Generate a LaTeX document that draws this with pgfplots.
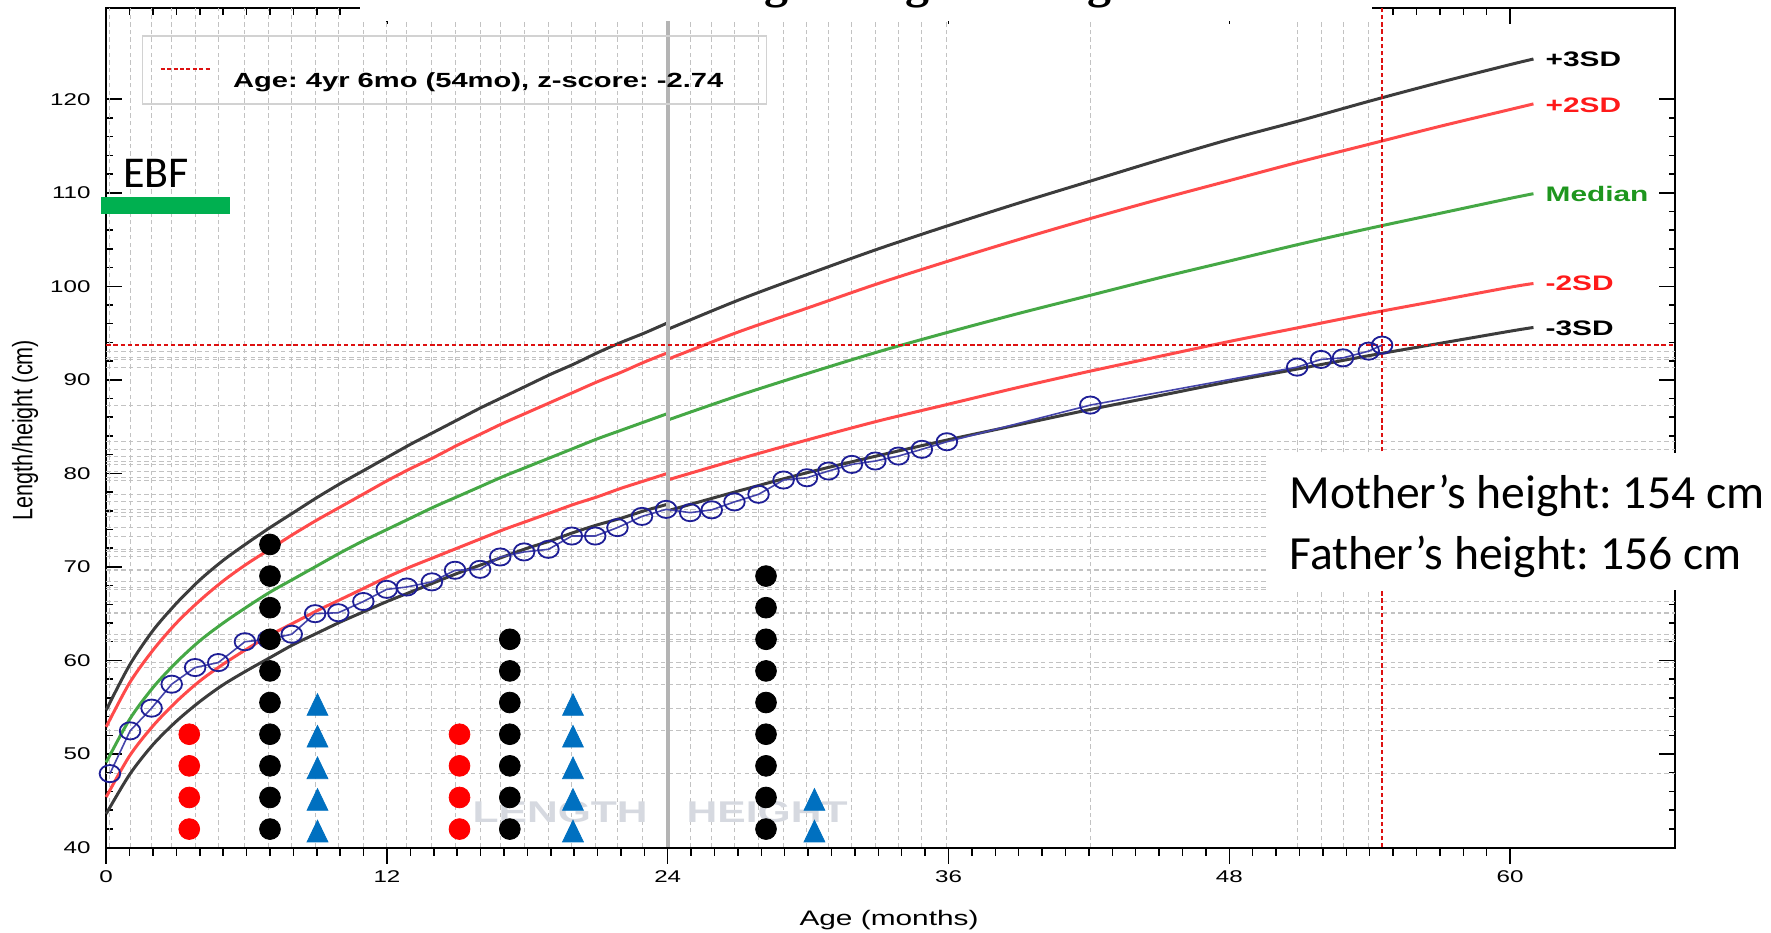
\documentclass[border=0pt]{standalone}
\usepackage{fontspec}
\setmainfont{Liberation Sans}
\newfontfamily\calibri{Carlito}
\newfontfamily\serifb{Liberation Serif}
\usepackage{pgfplots}
\pgfplotsset{compat=1.18}
\usepackage{pgfplotstable}
\frenchspacing

\definecolor{sdgray}{HTML}{3C3C3C}
\definecolor{sdred}{HTML}{FF4A4A}
\definecolor{sdgreen}{HTML}{45A845}
\definecolor{labred}{HTML}{FF1A1A}
\definecolor{labgreen}{HTML}{1E961E}
\definecolor{ptnavy}{HTML}{1E1E96}
\definecolor{ptline}{HTML}{4444AA}
\definecolor{gridc}{HTML}{C2C2C2}
\definecolor{mkblue}{HTML}{0070C0}
\definecolor{ebfgreen}{HTML}{00B050}
\definecolor{wmark}{HTML}{D6D9E0}
\definecolor{refred}{HTML}{DD1111}
\definecolor{legbox}{HTML}{D2D2D2}
\definecolor{sepgray}{HTML}{B4B4B4}

% WHO length-for-age (girls), 0-24 months
\pgfplotstableread{
m sm3 sm2 med sp2 sp3
0 43.6 45.4 49.1 52.9 54.7
1 47.8 49.8 53.7 57.6 59.5
2 51.0 53.0 57.1 61.1 63.2
3 53.5 55.6 59.8 64.0 66.1
4 55.6 57.8 62.1 66.4 68.6
5 57.4 59.6 64.0 68.5 70.7
6 58.9 61.2 65.7 70.3 72.5
7 60.3 62.7 67.3 71.9 74.2
8 61.7 64.0 68.7 73.5 75.8
9 62.9 65.3 70.1 75.0 77.4
10 64.1 66.5 71.5 76.4 78.9
11 65.2 67.7 72.8 77.8 80.3
12 66.3 68.9 74.0 79.2 81.7
13 67.3 70.0 75.2 80.5 83.1
14 68.3 71.0 76.4 81.7 84.4
15 69.3 72.0 77.5 83.0 85.7
16 70.2 73.0 78.6 84.2 87.0
17 71.1 74.0 79.7 85.4 88.2
18 72.0 74.9 80.7 86.5 89.4
19 72.8 75.8 81.7 87.6 90.6
20 73.7 76.7 82.7 88.7 91.7
21 74.5 77.5 83.7 89.8 92.9
22 75.2 78.4 84.6 90.8 94.0
23 76.0 79.2 85.5 91.9 95.0
24 76.7 80.0 86.4 92.9 96.1
}\lentab

% WHO height-for-age (girls), 24-61 months
\pgfplotstableread{
m sm3 sm2 med sp2 sp3
24 76.0 79.3 85.7 92.2 95.4
27 78.1 81.5 88.3 95.1 98.5
30 80.1 83.6 90.7 97.7 101.3
33 81.9 85.6 93.0 100.3 104.0
36 83.6 87.4 95.1 102.7 106.5
39 85.2 89.2 97.1 105.0 108.9
42 86.8 90.9 99.0 107.2 111.2
45 88.3 92.5 100.9 109.3 113.5
48 89.8 94.1 102.7 111.3 115.7
51 91.2 95.6 104.5 113.3 117.7
54 92.6 97.1 106.2 115.2 119.8
57 93.9 98.5 107.8 117.1 121.8
60 95.2 99.9 109.4 118.9 123.7
61 95.6 100.3 109.9 119.5 124.3
}\httab

% child measurements
\pgfplotstableread{
x y
0.16 47.9
1.02 52.47
1.94 54.9
2.8 57.46
3.8 59.24
4.79 59.77
5.93 62.0
6.93 62.27
7.93 62.8
8.93 65.0
9.92 65.1
10.99 66.3
11.99 67.6
12.85 67.85
13.92 68.4
14.91 69.64
15.98 69.74
16.84 71.06
17.86 71.6
18.9 71.88
19.9 73.3
20.9 73.3
21.85 74.2
22.9 75.4
23.93 76.15
24.96 75.8
25.88 76.1
26.85 76.95
27.88 77.76
28.95 79.29
29.95 79.53
30.87 80.25
31.87 80.96
32.87 81.32
33.86 81.85
34.86 82.57
35.93 83.38
42.06 87.3
50.9 91.36
51.92 92.18
52.86 92.35
53.96 93.07
54.53 93.71
}\pts

\begin{document}
\begin{tikzpicture}
\useasboundingbox (0pt,0pt) rectangle (885.5pt,466pt);
\begin{axis}[
  at={(53.1pt,42.25pt)}, anchor=south west,
  scale only axis, width=784.4pt, height=419.5pt,
  xmin=0, xmax=67.05, ymin=40, ymax=129.7,
  axis line style={line width=1pt, black},
  tick align=inside,
  xtick={0,12,...,60}, minor x tick num=11,
  xtick pos=right, xticklabels={},
  ytick={40,50,...,120}, minor y tick num=4,
  yticklabel pos=left,
  major tick length=8pt, minor tick length=3.2pt,
  every tick/.style={black, line width=0.75pt},
  yticklabel style={font=\fontsize{8.5}{8.5}\selectfont, xscale=1.42, anchor=east, xshift=-2pt},
  /pgf/number format/assume math mode=true,
  extra x ticks={0.16,1.02,1.94,2.8,3.8,4.79,5.93,6.93,7.93,8.93,9.92,10.99,11.99,12.85,13.92,14.91,15.98,16.84,17.86,18.9,19.9,20.9,21.85,22.9,23.93,24.96,25.88,26.85,27.88,28.95,29.95,30.87,31.87,32.87,33.86,34.86,35.93,42.06,50.9,51.92,52.86,53.96},
  extra y ticks={47.9,52.47,54.9,57.46,59.24,59.77,62.0,62.27,62.8,65.0,65.1,66.3,67.6,67.85,68.4,69.64,69.74,71.06,71.6,71.88,73.3,74.2,75.4,76.15,75.8,76.1,76.95,77.76,79.29,79.53,80.25,80.96,81.32,81.85,82.57,83.38,87.3,91.36,92.18,92.35,93.07},
  extra x tick labels={}, extra y tick labels={},
  extra tick style={grid=major, major tick length=0pt},
  major grid style={gridc, dashed, dash pattern=on 2.2pt off 1.6pt, line width=0.5pt},
  clip=false,
]
% watermark
\node[font=\bfseries\fontsize{15}{15}\selectfont, text=wmark, xscale=1.42] at (axis cs:19.4,43.8) {LENGTH};
\node[font=\bfseries\fontsize{15}{15}\selectfont, text=wmark, xscale=1.42] at (axis cs:28.25,43.8) {HEIGHT};

% reference curves
\addplot[sdgray, line width=1.5pt, smooth] table[x=m,y=sp3] {\lentab};
\addplot[sdgray, line width=1.5pt, smooth] table[x=m,y=sp3] {\httab};
\addplot[sdred, line width=1.5pt, smooth] table[x=m,y=sp2] {\lentab};
\addplot[sdred, line width=1.5pt, smooth] table[x=m,y=sp2] {\httab};
\addplot[sdgreen, line width=1.5pt, smooth] table[x=m,y=med] {\lentab};
\addplot[sdgreen, line width=1.5pt, smooth] table[x=m,y=med] {\httab};
\addplot[sdred, line width=1.5pt, smooth] table[x=m,y=sm2] {\lentab};
\addplot[sdred, line width=1.5pt, smooth] table[x=m,y=sm2] {\httab};
\addplot[sdgray, line width=1.5pt, smooth] table[x=m,y=sm3] {\lentab};
\addplot[sdgray, line width=1.5pt, smooth] table[x=m,y=sm3] {\httab};

% length / height switch line
\draw[sepgray, line width=2pt] (axis cs:24,40) -- (axis cs:24,129.7);

% current age/height cross lines
\draw[refred, line width=0.7pt, dash pattern=on 2.2pt off 1.4pt] (axis cs:0,93.71) -- (axis cs:67.05,93.71);
\draw[refred, line width=0.7pt, dash pattern=on 2.2pt off 1.4pt] (axis cs:54.53,40) -- (axis cs:54.53,129.7);

% curve labels
\node[anchor=west, font=\bfseries\fontsize{10.5}{10.5}\selectfont, xscale=1.42, text=black, inner sep=0pt] at (axis cs:61.5,124.3) {+3SD};
\node[anchor=west, font=\bfseries\fontsize{10.5}{10.5}\selectfont, xscale=1.42, text=labred, inner sep=0pt] at (axis cs:61.5,119.4) {+2SD};
\node[anchor=west, font=\bfseries\fontsize{10.5}{10.5}\selectfont, xscale=1.42, text=labgreen, inner sep=0pt] at (axis cs:61.5,109.9) {Median};
\node[anchor=west, font=\bfseries\fontsize{10.5}{10.5}\selectfont, xscale=1.42, text=labred, inner sep=0pt] at (axis cs:61.5,100.3) {-2SD};
\node[anchor=west, font=\bfseries\fontsize{10.5}{10.5}\selectfont, xscale=1.42, text=black, inner sep=0pt] at (axis cs:61.5,95.5) {-3SD};

% child's measurements
\addplot[ptline, line width=0.8pt, mark=o, mark size=4.3pt, mark options={ptnavy, line width=0.9pt, xscale=1.2, solid}] table[x=x,y=y] {\pts};

% red dots
\addplot[only marks, mark=*, mark size=5.2pt, color=red] coordinates {
(3.55,41.97)(3.55,45.35)(3.55,48.73)(3.55,52.11)
(15.1,41.97)(15.1,45.35)(15.1,48.73)(15.1,52.11)};
% black dots
\addplot[only marks, mark=*, mark size=5.2pt, color=black] coordinates {
(7,41.97)(7,45.35)(7,48.73)(7,52.11)(7,55.5)(7,58.88)(7,62.26)(7,65.64)(7,69.02)(7,72.4)
(17.25,41.97)(17.25,45.35)(17.25,48.73)(17.25,52.11)(17.25,55.5)(17.25,58.88)(17.25,62.26)
(28.2,41.97)(28.2,45.35)(28.2,48.73)(28.2,52.11)(28.2,55.5)(28.2,58.88)(28.2,62.26)(28.2,65.64)(28.2,69.02)};
% blue triangles
\addplot[only marks, mark=triangle*, mark size=6pt, color=mkblue, mark options={yscale=1.2}] coordinates {
(9.03,41.37)(9.03,44.75)(9.03,48.13)(9.03,51.51)(9.03,54.9)
(19.95,41.37)(19.95,44.75)(19.95,48.13)(19.95,51.51)(19.95,54.9)
(30.27,41.37)(30.27,44.75)};
\end{axis}

% bottom axis with outward ticks and labels
\begin{axis}[
  at={(53.1pt,42.25pt)}, anchor=south west,
  scale only axis, width=784.4pt, height=419.5pt,
  xmin=0, xmax=67.05, ymin=40, ymax=129.7,
  hide y axis,
  axis x line*=bottom,
  axis line style={line width=1pt, black},
  tick align=outside,
  xtick={0,12,...,60}, minor x tick num=11,
  major tick length=8pt, minor tick length=4pt,
  every tick/.style={black, line width=0.75pt},
  xticklabel style={font=\fontsize{8.5}{8.5}\selectfont, xscale=1.42},
  /pgf/number format/assume math mode=true,
]
\end{axis}

% axis labels
\node[font=\fontsize{10.5}{10.5}\selectfont, xscale=1.42] at (444.5pt,5.8pt) {Age (months)};
\node[font=\fontsize{10.8}{10.8}\selectfont, xscale=1.3, rotate=90] at (12.5pt,251pt) {Length/height (cm)};

% title area (cut off at the top)
\fill[white] (180pt,455.5pt) rectangle (686pt,470pt);
\node[anchor=base west, inner sep=0pt, font=\serifb\bfseries\fontsize{24}{24}\selectfont] at (342pt,467pt) {Length/height-for-age};

% legend box
\draw[legbox, line width=0.8pt] (71.2pt,414pt) rectangle (383.2pt,448pt);
\draw[refred, line width=0.6pt, dash pattern=on 2pt off 1.2pt] (80.4pt,431.5pt) -- (104.8pt,431.5pt);
\node[anchor=base west, inner sep=0pt, font=\bfseries\fontsize{10.25}{10.25}\selectfont, xscale=1.42] at (116.3pt,422.4pt) {Age: 4yr 6mo (54mo), z-score: -2.74};

% EBF annotation
\fill[ebfgreen] (50.25pt,359pt) rectangle (114.8pt,367.4pt);
\node[anchor=base west, inner sep=0pt, font=\calibri\fontsize{22}{22}\selectfont] at (61.5pt,372pt) {EBF};

% parents' heights
\fill[white] (634.5pt,171pt) rectangle (885.5pt,239.5pt);
\node[anchor=base west, inner sep=0pt, font=\calibri\fontsize{23.8}{23.8}\selectfont] at (644.5pt,211.5pt) {Mother’s height: 154 cm};
\node[anchor=base west, inner sep=0pt, font=\calibri\fontsize{23.8}{23.8}\selectfont] at (644.5pt,181pt) {Father’s height: 156 cm};
\end{tikzpicture}
\end{document}
